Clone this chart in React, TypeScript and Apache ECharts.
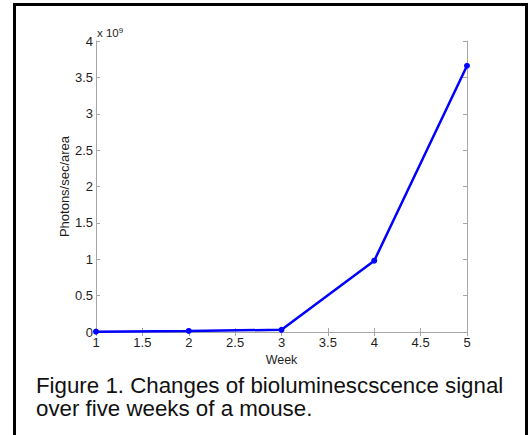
import React, { useEffect, useRef } from "react";
import * as echarts from "echarts";

const weeks = [1, 2, 3, 4, 5];
const signal = [0.005e9, 0.015e9, 0.03e9, 0.98e9, 3.66e9];
const captionLines = [
  "Figure 1. Changes of bioluminescscence signal",
  "over five weeks of a mouse.",
];
const yAxisTitle = "Photons/sec/area";
const xAxisTitle = "Week";

const FONT = "'Liberation Sans', Arial, sans-serif";
const TXT = "#1e1e1e";
const AX = "#a6a6a6";

export default function App() {
  const ref = useRef<HTMLDivElement>(null);
  useEffect(() => {
    document.body.style.margin = "0";
    const chart = echarts.init(ref.current!, null, { renderer: "svg" });
    const axisLine = { show: true, lineStyle: { color: AX, width: 1 } };
    const axisTick = { show: true, inside: true, length: 4, lineStyle: { color: AX, width: 1 } };
    chart.setOption({
      animation: false,
      backgroundColor: "#fff",
      grid: { left: 96, right: 63, top: 41, bottom: 103 },
      xAxis: [
        {
          type: "value",
          min: 1,
          max: 5,
          interval: 0.5,
          position: "bottom",
          axisLine,
          axisTick,
          splitLine: { show: false },
          axisLabel: { color: TXT, fontFamily: FONT, fontSize: 13, margin: 4 },
          name: xAxisTitle,
          nameLocation: "middle",
          nameGap: 21,
          nameMoveOverlap: false,
          nameTextStyle: { color: TXT, fontFamily: FONT, fontSize: 12.5 },
        },
        {
          type: "value",
          min: 1,
          max: 5,
          interval: 0.5,
          position: "top",
          axisLine,
          axisTick,
          splitLine: { show: false },
          axisLabel: { show: false },
        },
      ],
      yAxis: [
        {
          type: "value",
          min: 0,
          max: 4e9,
          interval: 0.5e9,
          position: "left",
          axisLine,
          axisTick,
          splitLine: { show: false },
          axisLabel: {
            color: TXT,
            fontFamily: FONT,
            fontSize: 13,
            margin: 3,
            formatter: (v: number) => String(Math.round((v / 1e9) * 10) / 10),
          },
          name: yAxisTitle,
          nameLocation: "middle",
          nameGap: 25,
          nameMoveOverlap: false,
          nameTextStyle: { color: TXT, fontFamily: FONT, fontSize: 13 },
        },
        {
          type: "value",
          min: 0,
          max: 4e9,
          interval: 0.5e9,
          position: "right",
          axisLine,
          axisTick,
          splitLine: { show: false },
          axisLabel: { show: false },
        },
      ],
      series: [
        {
          type: "line",
          data: weeks.map((w, i) => [w, signal[i]]),
          color: "#0000ff",
          lineStyle: { color: "#0000ff", width: 2.5 },
          itemStyle: { color: "#0000ff" },
          symbol: "circle",
          symbolSize: 6,
          showSymbol: true,
        },
      ],
      graphic: [
        {
          type: "rect",
          shape: { x: 14.5, y: 4.5, width: 512, height: 440 },
          style: { fill: "none", stroke: "#000", lineWidth: 3 },
          silent: true,
        },
        {
          type: "text",
          left: 97,
          top: 26,
          style: {
            text: "x 10{s|9}",
            fontFamily: FONT,
            fontSize: 11.5,
            fill: TXT,
            rich: { s: { fontSize: 8, fill: TXT, verticalAlign: "top", padding: [0, 0, 6, 0] } },
          },
        },
        ...captionLines.map((t, i) => ({
          type: "text",
          x: 36,
          y: 385 + i * 23,
          style: {
            text: t,
            fontFamily: FONT,
            fontSize: 22.3,
            fill: "#111",
            verticalAlign: "middle",
          },
        })),
      ],
    });
    return () => chart.dispose();
  }, []);
  return <div ref={ref} style={{ width: 530, height: 435 }} />;
}
